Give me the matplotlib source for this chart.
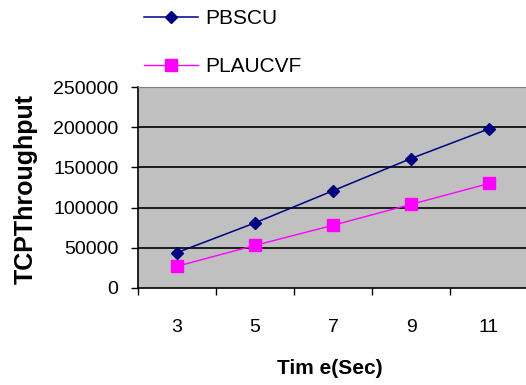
import numpy as np
import matplotlib
matplotlib.use("Agg")
import matplotlib.pyplot as plt
from matplotlib.ticker import FixedLocator

plt.rcParams['font.family'] = ['Liberation Sans', 'DejaVu Sans']

time_sec = ['3', '5', '7', '9', '11']
pbscu = [44000, 81000, 121000, 161000, 198000]
plaucvf = [27000, 53000, 78000, 104000, 130000]
y_ticks = [0, 50000, 100000, 150000, 200000, 250000]

W, H = 526, 385
fig = plt.figure(figsize=(W / 100, H / 100), dpi=100)
ax = fig.add_axes([138 / W, 1 - 288 / H, (528 - 138) / W, (288 - 87) / H])
ax.set_facecolor('#C0C0C0')

x = np.arange(len(time_sec))
ax.plot(x, pbscu, color='#000080', lw=1.1, marker='D', ms=6.5,
        mfc='#000080', mec='#000080', label='PBSCU', zorder=3)
ax.plot(x, plaucvf, color='#FF00FF', lw=1.0, marker='s', ms=8,
        mfc='#FF00FF', mec='#FF00FF', label='PLAUCVF', zorder=3)

# excel-style category axis: tick marks between categories, labels centred
ax.set_xlim(-0.5, len(time_sec) - 0.5)
ax.xaxis.set_major_locator(FixedLocator(np.arange(-0.5, len(time_sec), 1.0)))
ax.xaxis.set_minor_locator(FixedLocator(x))
ax.set_xticklabels([])
ax.set_xticklabels(time_sec, minor=True)
ax.tick_params(axis='x', which='major', direction='out', length=5, width=1, color='black')
ax.tick_params(axis='x', which='minor', length=0, pad=22, labelsize=14)

ax.set_ylim(0, 250000)
ax.set_yticks(y_ticks)
ax.set_yticklabels([str(v) for v in y_ticks])
ax.tick_params(axis='y', direction='out', length=5, width=1, color='black',
               pad=9, labelsize=14)

for v in y_ticks[1:-1]:
    ax.axhline(v, color='black', lw=1.2, zorder=1)

ax.spines['left'].set_color('black')
ax.spines['bottom'].set_color('black')
ax.spines['left'].set_linewidth(1.2)
ax.spines['bottom'].set_linewidth(1.2)
ax.spines['top'].set_color('#808080')
ax.spines['right'].set_visible(False)

fig.text(330 / W, 1 - 369 / H, 'Tim e(Sec)', ha='center', va='center',
         fontsize=15, fontweight='bold')
fig.text(26 / W, 1 - 189 / H, 'TCPThroughput', ha='center', va='center',
         rotation=90, fontsize=18, fontweight='bold')

fig.legend(loc='upper left', bbox_to_anchor=(144 / W, 1 - 9 / H),
           frameon=False, fontsize=15, handlelength=2.6, handletextpad=0.35,
           labelspacing=1.4, borderpad=0, borderaxespad=0)

fig.savefig('out.png', dpi=100)
